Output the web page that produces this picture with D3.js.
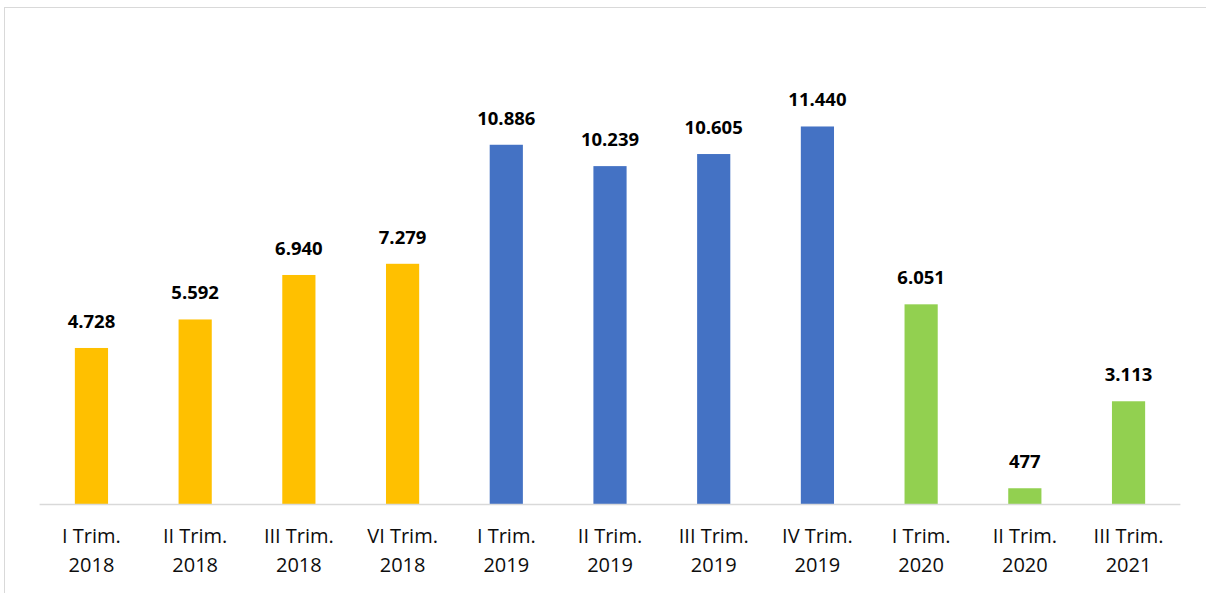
<!DOCTYPE html>
<html>
<head>
<meta charset="utf-8">
<script src="https://cdn.jsdelivr.net/npm/d3@7"></script>
<style>
  html, body { margin: 0; padding: 0; background: #fff; }
  svg { display: block; }
</style>
</head>
<body>
<svg id="chart" width="1206" height="593"></svg>
<script>
const categories = [
  ["I Trim.", "2018"], ["II Trim.", "2018"], ["III Trim.", "2018"], ["VI Trim.", "2018"],
  ["I Trim.", "2019"], ["II Trim.", "2019"], ["III Trim.", "2019"], ["IV Trim.", "2019"],
  ["I Trim.", "2020"], ["II Trim.", "2020"], ["III Trim.", "2021"]
];
const values = [4728, 5592, 6940, 7279, 10886, 10239, 10605, 11440, 6051, 477, 3113];
const valueLabels = ["4.728", "5.592", "6.940", "7.279", "10.886", "10.239", "10.605", "11.440", "6.051", "477", "3.113"];
const groups = ["2018", "2018", "2018", "2018", "2019", "2019", "2019", "2019", "2020", "2020", "2021"];
const groupColors = { "2018": "#FFC000", "2019": "#4472C4", "2020": "#92D050", "2021": "#92D050" };

const svg = d3.select("#chart");

// outer frame
svg.append("rect")
  .attr("x", 4.5).attr("y", 7.5)
  .attr("width", 1220).attr("height", 600)
  .attr("fill", "none").attr("stroke", "#d9d9d9").attr("stroke-width", 1);

const idx = d3.range(values.length);
const x = d3.scaleBand().domain(idx).range([39.6, 1180.4]).paddingInner(0.68).paddingOuter(0.34);
const y = d3.scaleLinear().domain([0, 14000]).range([504, 42]);

// bars
svg.append("g").selectAll("rect")
  .data(idx)
  .join("rect")
  .attr("x", i => x(i))
  .attr("y", i => y(values[i]))
  .attr("width", x.bandwidth())
  .attr("height", i => y(0) - y(values[i]))
  .attr("fill", i => groupColors[groups[i]]);

// baseline
svg.append("line")
  .attr("x1", 39.6).attr("x2", 1180.4)
  .attr("y1", y(0) + 0.5).attr("y2", y(0) + 0.5)
  .attr("stroke", "#d9d9d9").attr("stroke-width", 1.5);

// value labels
svg.append("g").selectAll("text")
  .data(idx)
  .join("text")
  .attr("x", i => x(i) + x.bandwidth() / 2)
  .attr("y", i => y(values[i]) - 20)
  .attr("text-anchor", "middle")
  .attr("font-family", "'Open Sans', 'Noto Sans', sans-serif")
  .attr("font-weight", "bold")
  .attr("font-size", 18.5)
  .attr("fill", "#000")
  .text(i => valueLabels[i]);

// category labels
const cat = svg.append("g").selectAll("text")
  .data(idx)
  .join("text")
  .attr("x", i => x(i) + x.bandwidth() / 2)
  .attr("text-anchor", "middle")
  .attr("font-family", "'Open Sans', 'Noto Sans', sans-serif")
  .attr("font-size", 20)
  .attr("fill", "#0d0d0d");
cat.append("tspan").attr("x", i => x(i) + x.bandwidth() / 2).attr("y", 543).text(i => categories[i][0]);
cat.append("tspan").attr("x", i => x(i) + x.bandwidth() / 2).attr("y", 572).text(i => categories[i][1]);
</script>
</body>
</html>
